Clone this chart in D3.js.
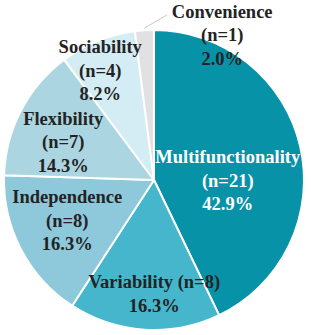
<!DOCTYPE html>
<html>
<head>
<meta charset="utf-8">
<script src="https://cdn.jsdelivr.net/npm/d3@7"></script>
<style>
  body { margin: 0; background: #fff; }
  svg { display: block; }
  .label { font-family: "Liberation Serif", serif; font-weight: bold; }
</style>
</head>
<body>
<div id="chart"></div>
<script>
const categories = ["Multifunctionality", "Variability", "Independence", "Flexibility", "Sociability", "Convenience"];
const counts = [21, 8, 8, 7, 4, 1];
const colors = ["#0892a8", "#46b6cc", "#8ec8db", "#abd5e1", "#d4ecf3", "#e1e1e1"];
const textColors = ["#ffffff", "#232323", "#232323", "#232323", "#232323", "#232323"];
// label nudges from the slice centroid (radius 90)
const labelNudge = [[-14, 27], [6, 30], [-7, 5], [-11, 10], [-20, -20], [74, -49]];

const width = 311, height = 335;
const cx = 154, cy = 180, radius = 150;
const lineHeight = 23.5;

const total = d3.sum(counts);
const data = categories.map((c, i) => {
    const pct = (counts[i] / total * 100).toFixed(1) + "%";
    let lines;
    if (c === "Variability") lines = [`${c} (n=${counts[i]})`, pct];
    else lines = [c, `(n=${counts[i]})`, pct];
    return { name: c, value: counts[i], lines: lines, i: i };
});

const svg = d3.select("#chart")
    .append("svg")
    .attr("width", width)
    .attr("height", height);

const g = svg.append("g")
    .attr("transform", `translate(${cx},${cy})`);

const pie = d3.pie().value(d => d.value).sort(null);
const arc = d3.arc().innerRadius(0).outerRadius(radius);
const labelArc = d3.arc().innerRadius(90).outerRadius(90);
const arcs = pie(data);

g.selectAll("path")
    .data(arcs)
    .enter()
    .append("path")
    .attr("d", arc)
    .attr("fill", d => colors[d.data.i])
    .attr("stroke", "#fff")
    .attr("stroke-width", 2)
    .attr("stroke-linejoin", "round");

// leader line for the small slice
const conv = arcs[arcs.length - 1];
const convMid = (conv.startAngle + conv.endAngle) / 2;
const convLabel = labelArc.centroid(conv);
const convPos = [convLabel[0] + labelNudge[5][0], convLabel[1] + labelNudge[5][1]];
g.append("line")
    .attr("x1", Math.sin(convMid) * (radius + 2))
    .attr("y1", -Math.cos(convMid) * (radius + 2))
    .attr("x2", convPos[0] - 55)
    .attr("y2", convPos[1] - lineHeight - 3)
    .attr("stroke", "#c8c8c8")
    .attr("stroke-width", 1);

const labels = g.selectAll("text.label")
    .data(arcs)
    .enter()
    .append("text")
    .attr("class", "label")
    .attr("text-anchor", "middle")
    .style("font-size", "18.5px")
    .attr("fill", d => textColors[d.data.i])
    .attr("transform", d => {
        const c = labelArc.centroid(d);
        const n = labelNudge[d.data.i];
        return `translate(${c[0] + n[0]},${c[1] + n[1]})`;
    });

labels.each(function(d) {
    const lines = d.data.lines;
    d3.select(this).selectAll("tspan")
        .data(lines)
        .enter()
        .append("tspan")
        .attr("x", 0)
        .attr("y", (t, k) => (k - (lines.length - 1) / 2) * lineHeight)
        .text(t => t);
});
</script>
</body>
</html>
